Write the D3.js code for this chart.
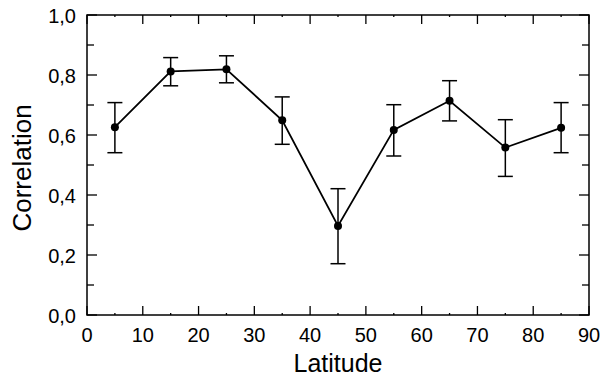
<!DOCTYPE html>
<html>
<script src='https://d3js.org/d3.v7.min.js'></script>
<style>
 body {margin:0; background:#fff;}
 text {font-family:'Liberation Sans', Arial, sans-serif; fill:#000;}
</style>
<body onload='init()'>
<svg width=606 height=378></svg>
<script>
const latitude = [5, 15, 25, 35, 45, 55, 65, 75, 85];
const correlation = [0.626, 0.812, 0.819, 0.649, 0.297, 0.617, 0.714, 0.558, 0.624];
const errUpper = [0.708, 0.858, 0.864, 0.727, 0.421, 0.701, 0.781, 0.651, 0.708];
const errLower = [0.541, 0.764, 0.774, 0.569, 0.171, 0.530, 0.647, 0.462, 0.541];
const xTicks = [0, 10, 20, 30, 40, 50, 60, 70, 80, 90];
const yTicks = [0, 0.2, 0.4, 0.6, 0.8, 1.0];

function init() {
 var svg = d3.select("svg");
 var x = d3.scaleLinear().domain([0, 90]).range([87, 589]);
 var y = d3.scaleLinear().domain([0, 1]).range([315, 15]);
 var fmt = function (d) { return d3.format(".1f")(d).replace(".", ","); };
 var xMinor = xTicks.slice(0, -1).map(function (d) { return d + 5; });
 var yMinor = yTicks.slice(0, -1).map(function (d) { return +(d + 0.1).toFixed(1); });

 // frame
 svg.append("rect")
  .attr("x", x(0)).attr("y", y(1))
  .attr("width", x(90) - x(0)).attr("height", y(0) - y(1))
  .attr("fill", "none").attr("stroke", "black").attr("stroke-width", 1.5);

 var ticks = svg.append("g").attr("stroke", "black").attr("stroke-width", 1.3);
 // x ticks, bottom and top, pointing inward
 [[y(0), -1], [y(1), 1]].forEach(function (s) {
  ticks.selectAll(null).data(xTicks).enter().append("line")
   .attr("x1", d => x(d)).attr("x2", d => x(d))
   .attr("y1", s[0]).attr("y2", s[0] + s[1] * 9);
  ticks.selectAll(null).data(xMinor).enter().append("line")
   .attr("x1", d => x(d)).attr("x2", d => x(d))
   .attr("y1", s[0]).attr("y2", s[0] + s[1] * 2);
 });
 // y ticks, left and right, pointing inward
 [[x(0), 1], [x(90), -1]].forEach(function (s) {
  ticks.selectAll(null).data(yTicks).enter().append("line")
   .attr("y1", d => y(d)).attr("y2", d => y(d))
   .attr("x1", s[0]).attr("x2", s[0] + s[1] * 10);
  ticks.selectAll(null).data(yMinor).enter().append("line")
   .attr("y1", d => y(d)).attr("y2", d => y(d))
   .attr("x1", s[0]).attr("x2", s[0] + s[1] * 7);
 });

 // tick labels
 svg.append("g").selectAll("text").data(xTicks).enter().append("text")
  .attr("x", d => x(d)).attr("y", 342)
  .attr("text-anchor", "middle").attr("font-size", 20)
  .text(d => d);
 svg.append("g").selectAll("text").data(yTicks).enter().append("text")
  .attr("x", 76).attr("y", d => y(d) + 7.5)
  .attr("text-anchor", "end").attr("font-size", 20)
  .text(fmt);

 // axis titles
 svg.append("text").attr("x", 338).attr("y", 372)
  .attr("text-anchor", "middle").attr("font-size", 25).text("Latitude");
 svg.append("text").attr("transform", "translate(31,168) rotate(-90)")
  .attr("text-anchor", "middle").attr("font-size", 26).text("Correlation");

 // error bars
 var eb = svg.append("g").attr("stroke", "black").attr("stroke-width", 1.5);
 eb.selectAll(null).data(latitude).enter().append("line")
  .attr("x1", d => x(d)).attr("x2", d => x(d))
  .attr("y1", (d, i) => y(errUpper[i])).attr("y2", (d, i) => y(errLower[i]));
 [errUpper, errLower].forEach(function (arr) {
  eb.selectAll(null).data(latitude).enter().append("line")
   .attr("x1", d => x(d) - 7.5).attr("x2", d => x(d) + 7.5)
   .attr("y1", (d, i) => y(arr[i])).attr("y2", (d, i) => y(arr[i]));
 });

 // line
 svg.append("path")
  .datum(latitude)
  .attr("fill", "none").attr("stroke", "black").attr("stroke-width", 1.8)
  .attr("d", d3.line().x(d => x(d)).y((d, i) => y(correlation[i])));

 // points
 svg.append("g").selectAll("circle").data(latitude).enter().append("circle")
  .attr("cx", d => x(d)).attr("cy", (d, i) => y(correlation[i]))
  .attr("r", 4).attr("fill", "black");
}
</script>
</body>
</html>
